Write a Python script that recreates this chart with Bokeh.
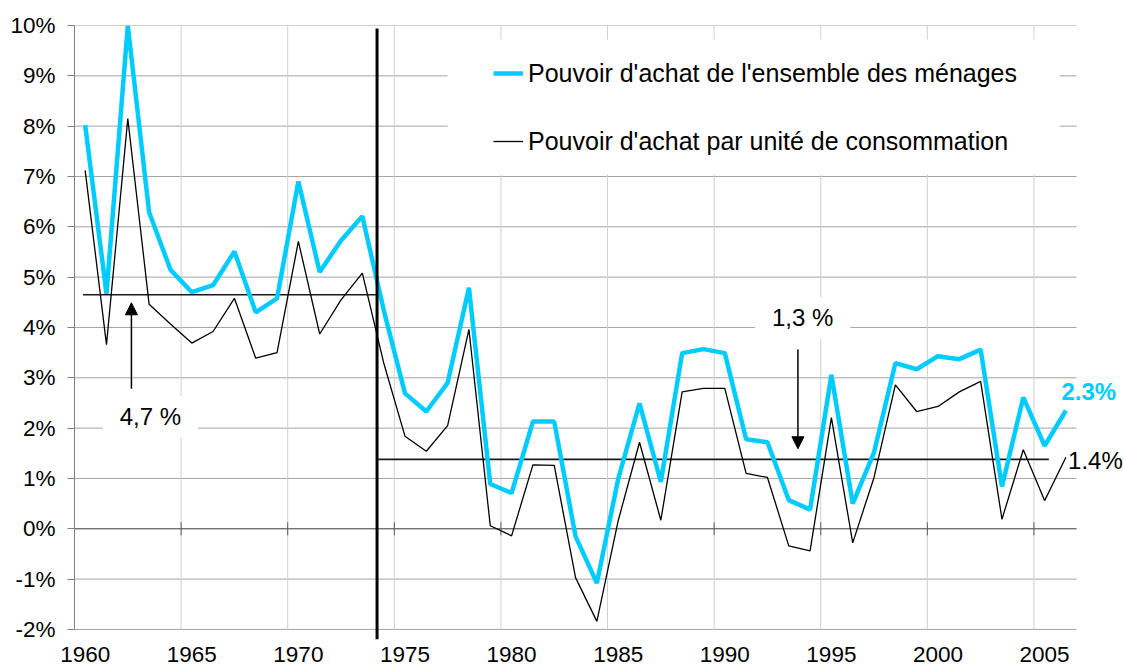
from bokeh.plotting import figure
from bokeh.models import (FixedTicker, Legend, LegendItem, Label, BoxAnnotation,
                          Arrow, NormalHead, ColumnDataSource)
from bokeh.embed import file_html
from bokeh.resources import INLINE

# ---------------- data ----------------
years = list(range(1960, 2007))
pa_menages = [8.02, 4.67, 10.0, 6.29, 5.15, 4.70, 4.84, 5.51, 4.30, 4.58,
              6.90, 5.10, 5.73, 6.21, 4.35, 2.69, 2.33, 2.90, 4.79, 0.89,
              0.71, 2.13, 2.13, -0.15, -1.08, 0.99, 2.49, 0.93, 3.49, 3.57,
              3.49, 1.78, 1.72, 0.57, 0.38, 3.06, 0.50, 1.52, 3.29, 3.17,
              3.43, 3.37, 3.56, 0.84, 2.61, 1.65, 2.35]
pa_uc = [7.12, 3.66, 8.15, 4.46, 4.07, 3.69, 3.92, 4.58, 3.39, 3.50,
         5.71, 3.87, 4.55, 5.08, 3.30, 1.84, 1.54, 2.05, 3.96, 0.06,
         -0.14, 1.27, 1.26, -0.97, -1.84, 0.16, 1.72, 0.17, 2.72, 2.79,
         2.79, 1.10, 1.02, -0.34, -0.44, 2.21, -0.28, 1.02, 2.86, 2.33,
         2.43, 2.72, 2.93, 0.19, 1.57, 0.56, 1.42]
series_names = ["Pouvoir d'achat de l'ensemble des ménages",
                "Pouvoir d'achat par unité de consommation"]
x_tick_years = [1960, 1965, 1970, 1975, 1980, 1985, 1990, 1995, 2000, 2005]
y_ticks = [-2, -1, 0, 1, 2, 3, 4, 5, 6, 7, 8, 9, 10]
y_tick_labels = ["-2%", "-1%", "0%", "1%", "2%", "3%", "4%", "5%", "6%",
                 "7%", "8%", "9%", "10%"]
# period means (horizontal reference lines)
period_starts = [1959.9, 1973.75]
period_ends = [1973.7, 2005.2]
period_means = [4.65, 1.38]
period_labels = ["4,7 %", "1,3 %"]
break_year = 1973.69
end_labels = ["2.3%", "1.4%"]

BLUE = "#00CCFF"
FONT = "Liberation Sans"
X0, X1 = years[0] - 0.5, years[-1] + 0.5   # category-axis edges

p = figure(width=1123, height=672, output_backend="svg", toolbar_location=None,
           x_range=(X0, 2008.7), y_range=(-2.2, 10.0),
           min_border_left=74, min_border_right=0, min_border_top=25,
           min_border_bottom=33)
p.outline_line_color = None
p.background_fill_color = "white"
p.border_fill_color = "white"
p.xgrid.visible = False
p.ygrid.visible = False

# horizontal grid lines
hsrc = ColumnDataSource(dict(y=y_ticks, x0=[X0] * len(y_ticks), x1=[X1] * len(y_ticks)))
p.segment(x0="x0", y0="y", x1="x1", y1="y", source=hsrc, line_color="#a4a4a4", line_width=1)

# vertical grid lines (between categories)
boundaries = [y - 0.5 for y in x_tick_years]
vsrc = ColumnDataSource(dict(x=boundaries[1:], y0=[y_ticks[0]] * (len(boundaries) - 1),
                             y1=[y_ticks[-1]] * (len(boundaries) - 1)))
p.segment(x0="x", y0="y0", x1="x", y1="y1", source=vsrc, line_color="#d0d0d0", line_width=1)

# zero line with tick marks
p.segment(x0=[X0], y0=[0], x1=[X1], y1=[0], line_color="#5a5a5a", line_width=1)
tsrc = ColumnDataSource(dict(x=boundaries, y0=[-0.13] * len(boundaries), y1=[0.13] * len(boundaries)))
p.segment(x0="x", y0="y0", x1="x", y1="y1", source=tsrc, line_color="#5a5a5a", line_width=1)

# axes
p.yaxis.ticker = FixedTicker(ticks=y_ticks)
p.yaxis.major_label_overrides = {t: l for t, l in zip(y_ticks, y_tick_labels)}
p.yaxis.bounds = (y_ticks[0], y_ticks[-1])
p.yaxis.axis_line_color = "#808080"
p.yaxis.major_tick_line_color = "#808080"
p.yaxis.major_tick_out = 7
p.yaxis.major_tick_in = 0
p.yaxis.minor_tick_line_color = None
p.yaxis.major_label_standoff = 12
p.yaxis.major_label_text_font = FONT
p.yaxis.major_label_text_font_size = "22.5px"
p.yaxis.major_label_text_color = "black"

p.xaxis.ticker = FixedTicker(ticks=x_tick_years)
p.xaxis.major_label_overrides = {t: str(t) for t in x_tick_years}
p.xaxis.axis_line_color = None
p.xaxis.major_tick_line_color = None
p.xaxis.minor_tick_line_color = None
p.xaxis.major_tick_out = 0
p.xaxis.major_tick_in = 0
p.xaxis.major_label_standoff = 7
p.xaxis.major_label_text_font = FONT
p.xaxis.major_label_text_font_size = "22.5px"
p.xaxis.major_label_text_color = "black"

# period mean lines
msrc = ColumnDataSource(dict(x0=period_starts, x1=period_ends, y=period_means))
p.segment(x0="x0", y0="y", x1="x1", y1="y", source=msrc, line_color="#1a1a1a", line_width=1.7)

# data series
src = ColumnDataSource(dict(year=years, menages=pa_menages, uc=pa_uc))
r_uc = p.line("year", "uc", source=src, line_color="black", line_width=1.3)
r_men = p.line("year", "menages", source=src, line_color=BLUE, line_width=4.5)

# break line
p.segment(x0=[break_year], y0=[-2.2], x1=[break_year], y1=[9.94], line_color="black", line_width=3)

# legend background
p.add_layout(BoxAnnotation(left=1977.0, right=2005.7, bottom=7.04, top=9.72,
                           fill_color="white", fill_alpha=1.0, line_color=None))

legend = Legend(items=[LegendItem(label=series_names[0], renderers=[r_men]),
                       LegendItem(label=series_names[1], renderers=[r_uc])],
                location=(419, 483), padding=0, margin=0, spacing=38,
                glyph_width=30, glyph_height=30, label_height=30,
                label_standoff=5, border_line_color=None,
                background_fill_alpha=0.0,
                label_text_font=FONT, label_text_font_size="25px",
                label_text_color="black")
p.add_layout(legend)

# annotation labels with white boxes
p.add_layout(Label(x=1963.06, y=2.23, text=period_labels[0], text_align="center",
                   text_baseline="middle", text_font=FONT, text_font_size="24px",
                   text_color="black", background_fill_color="white",
                   background_fill_alpha=1.0, padding=(17, 7)))
p.add_layout(Label(x=1993.65, y=4.19, text=period_labels[1], text_align="center",
                   text_baseline="middle", text_font=FONT, text_font_size="24px",
                   text_color="black", background_fill_color="white",
                   background_fill_alpha=1.0, padding=(17, 7)))

# arrows
p.add_layout(Arrow(end=NormalHead(size=12, fill_color="black", line_color="black"),
                   x_start=1962.17, y_start=2.78, x_end=1962.17, y_end=4.49,
                   line_color="black", line_width=1.5))
p.add_layout(Arrow(end=NormalHead(size=12, fill_color="black", line_color="black"),
                   x_start=1993.43, y_start=3.56, x_end=1993.43, y_end=1.59,
                   line_color="black", line_width=1.5))

# end labels
p.add_layout(Label(x=2005.79, y=2.73, text=end_labels[0], text_align="left",
                   text_baseline="middle", text_font=FONT, text_font_size="24px",
                   text_font_style="bold", text_color=BLUE))
p.add_layout(Label(x=2006.1, y=1.35, text=end_labels[1], text_align="left",
                   text_baseline="middle", text_font=FONT, text_font_size="24px",
                   text_color="black"))

open("out.html", "w").write(file_html(p, INLINE))
